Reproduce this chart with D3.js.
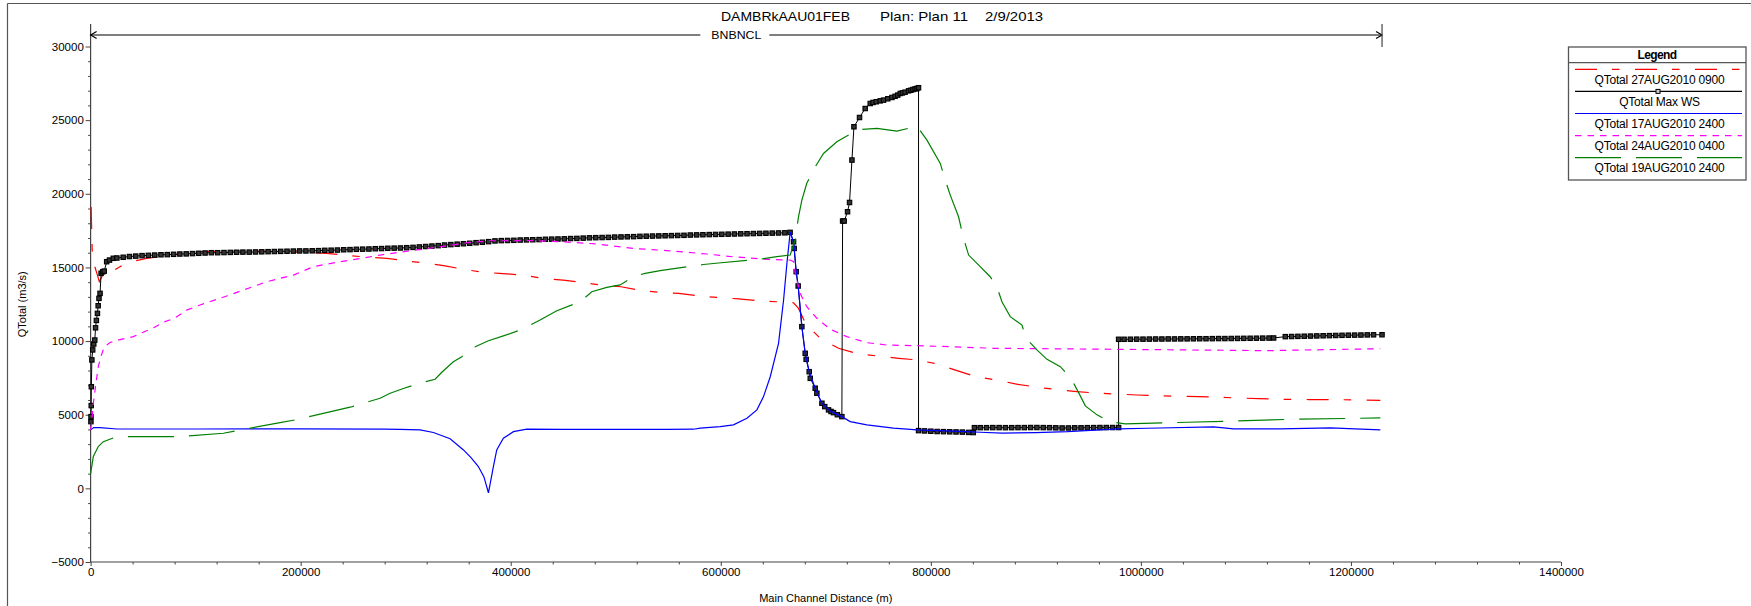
<!DOCTYPE html>
<html><head><meta charset="utf-8">
<script src="https://cdn.jsdelivr.net/npm/d3@7"></script>
<style>
html,body{margin:0;padding:0;background:#fff;}
svg{display:block;font-family:"Liberation Sans",Arial,sans-serif;}
</style></head><body>
<svg id="c" width="1751" height="606"></svg>
<script>
// ---------- text ----------
const titleParts = ["DAMBRkAAU01FEB", "Plan: Plan 11", "2/9/2013"];
const reachLabel = "BNBNCL";
const xTitle = "Main Channel Distance (m)";
const yTitle = "QTotal (m3/s)";
const legendTitle = "Legend";
const xTickValues = [0, 200000, 400000, 600000, 800000, 1000000, 1200000, 1400000];
const yTickValues = [-5000, 0, 5000, 10000, 15000, 20000, 25000, 30000];
const seriesNames = ["QTotal 27AUG2010 0900", "QTotal Max WS", "QTotal 17AUG2010 2400", "QTotal 24AUG2010 0400", "QTotal 19AUG2010 2400"];

// ---------- data: [main channel distance (m), QTotal (m3/s)] ----------
const q27Aug0900 = [[500,19100],[1500,16200],[3500,15160],[6000,14600],[8300,14030],[12100,14550],[21600,14780],[34400,15320],[53400,15620],[77000,15840],[104200,16070],[150000,16130],[205800,16000],[224800,15960],[240700,15840],[263000,15700],[282000,15620],[300000,15450],[320100,15280],[337500,15110],[356000,14860],[374000,14670],[389000,14600],[412000,14480],[430000,14260],[450000,14140],[467000,13990],[485000,13810],[505000,13690],[521000,13470],[541000,13310],[560000,13240],[579000,13060],[596000,12970],[617000,12860],[636000,12740],[653000,12670],[669300,12600],[674000,12220],[681000,11150],[694700,10190],[712100,9510],[729600,9150],[748700,8990],[769300,8830],[786800,8720],[805800,8450],[824900,7990],[842000,7600],[866000,7310],[880400,7090],[899000,6890],[916900,6730],[939100,6570],[956000,6480],[974700,6410],[996300,6340],[1015000,6300],[1033700,6250],[1054900,6230],[1072000,6190],[1090600,6140],[1112100,6090],[1131000,6050],[1160000,6030],[1190000,6020],[1228000,5980]];

const qMaxWS = [[300,4530],[400,4870],[600,5620],[700,6900],[1200,8720],[2000,9400],[3000,9800],[4000,10070],[4700,10900],[5500,11400],[6500,11880],[7200,12400],[8000,12900],[9000,13240],[10000,14600],[11500,14700],[13000,14750],[15300,15390],[18000,15500],[21600,15620],
[25000,15640],[31000,15690],[37000,15740],[43000,15770],[49000,15800],[55000,15820],[61000,15840],[67000,15860],[73000,15870],[79000,15890],[85000,15910],[91000,15920],[97000,15940],[103000,15960],[109000,15980],[115000,16000],[121000,16000],[127000,16010],[133000,16020],[139000,16030],[145000,16040],[151000,16040],[157000,16050],[163000,16060],[169000,16070],[175000,16080],[181000,16090],[187000,16100],[193000,16110],[199000,16120],[205000,16120],[211000,16130],[217000,16140],[223000,16160],[229000,16170],[235000,16180],[241000,16200],[247000,16210],[253000,16230],[259000,16240],[265000,16250],[271000,16270],[277000,16280],[283000,16300],[289000,16310],[295000,16320],[301000,16340],[307000,16360],[313000,16390],[319000,16420],[325000,16450],[331000,16480],[337000,16520],[343000,16550],[349000,16580],[355000,16610],[361000,16640],[367000,16680],[373000,16710],[379000,16750],
[385000,16800],[391000,16820],[397000,16830],[403000,16840],[409000,16860],[415000,16870],[421000,16880],[427000,16890],[433000,16910],[439000,16920],[445000,16930],[451000,16940],[457000,16960],[463000,16970],[469000,16990],[475000,17010],[481000,17020],[487000,17030],[493000,17040],[499000,17060],[505000,17070],[511000,17080],[517000,17090],[523000,17110],[529000,17120],[535000,17130],[541000,17140],[547000,17150],[553000,17160],[559000,17170],[565000,17180],[571000,17200],[577000,17210],[583000,17220],[589000,17230],[595000,17240],[601000,17250],[607000,17260],[613000,17270],[619000,17280],[625000,17290],[631000,17300],[637000,17310],[643000,17320],[649000,17330],[655000,17340],[661000,17350],[666000,17380],
[669300,16740],[669900,16290],[671800,14710],[673700,13740],[677200,10980],[680400,9170],[681300,8760],[684200,7920],[685200,7470],[689900,6800],[691500,6460],[696300,5780],[699000,5550],[702600,5330],[705000,5220],[707300,5140],[711000,5000],[715300,4870],
[716000,18150],[717500,18150],[720700,18780],[722600,19410],[724900,22290],[726800,24550],[732100,25180],[737500,25790],[742300,26130],[745000,26200],[748000,26250],[751800,26310],[755000,26360],[759000,26450],[763000,26540],[766000,26620],[768500,26700],[770900,26810],[773000,26850],[775500,26900],[778800,26990],[781000,27030],[783000,27080],[785000,27120],[786800,27150],[788300,27200],
[788300,3920],[794000,3900],[800000,3880],[806000,3860],[812000,3850],[818000,3840],[824000,3830],[830000,3820],[836000,3800],[840400,3790],
[841500,4120],[847000,4120],[853000,4120],[859000,4125],[865000,4125],[871000,4120],[877000,4120],[883000,4125],[889000,4125],[895000,4130],[901000,4130],[907000,4125],[913000,4120],[919000,4110],[925000,4100],[931000,4100],[937000,4110],[943000,4110],[949000,4120],[955000,4125],[961000,4130],[967000,4130],[973000,4130],[978800,4130],
[978800,10120],[984000,10120],[990000,10125],[996000,10130],[1002000,10130],[1008000,10135],[1014000,10140],[1020000,10140],[1026000,10145],[1032000,10145],[1038000,10150],[1044000,10150],[1050000,10155],[1056000,10160],[1062000,10160],[1068000,10165],[1074000,10170],[1080000,10170],[1086000,10175],[1092000,10180],[1098000,10185],[1104000,10190],[1110000,10195],[1116000,10200],[1122000,10205],[1126400,10210],
[1137500,10300],[1143500,10310],[1149500,10320],[1155500,10330],[1161500,10340],[1167500,10350],[1173500,10360],[1179500,10370],[1185500,10380],[1191500,10390],[1197500,10400],[1203500,10405],[1209500,10410],[1215500,10420],[1221500,10425],[1229600,10430]];

const q17Aug2400 = [[0,3970],[3000,4125],[9000,4125],[25000,4030],[100000,4030],[200000,4040],[280000,4020],[294700,4000],[313700,3970],[326400,3790],[342300,3370],[355000,2610],[362000,2100],[369200,1480],[374500,780],[378800,-300],[383500,1480],[386700,2610],[393000,3400],[402600,3850],[415300,4015],[450000,4010],[500000,4000],[550000,4010],[574000,4015],[580400,4085],[599400,4190],[612100,4310],[624900,4760],[634400,5330],[640700,6230],[647100,7580],[655000,9850],[659800,12790],[663000,15300],[666100,17400],[669300,16740],[669900,16290],[671800,14710],[673700,13740],[677200,10980],[680400,9170],[684200,7920],[689900,6800],[696300,5780],[702600,5330],[707300,5140],[715300,4870],[723200,4530],[739100,4310],[764500,4085],[786800,3970],[834400,3850],[847000,3810],[868000,3750],[900000,3790],[930000,3850],[978800,4035],[1005800,4080],[1069200,4170],[1088300,4035],[1132800,4035],[1180400,4100],[1228000,3970]];

const q24Aug0400 = [[0,3970],[1000,4440],[2600,5780],[5100,7140],[7300,8260],[10000,9000],[13000,9600],[18500,9900],[28000,10100],[40700,10300],[50000,10600],[60000,10900],[70000,11300],[80000,11550],[91500,12100],[104200,12450],[129600,13060],[167700,14030],[193100,14480],[212100,15050],[237500,15390],[263000,15680],[275600,15840],[301000,16100],[332800,16400],[361300,16700],[380400,16810],[420000,16820],[450200,16740],[482000,16590],[516900,16290],[551800,16130],[586800,15910],[612100,15720],[643800,15550],[666100,15500],[669300,15390],[670900,14600],[675600,13240],[681900,12330],[691500,11550],[704200,10800],[720000,10300],[739100,9890],[758200,9730],[786800,9690],[818500,9620],[860000,9510],[978800,9440],[1120000,9350],[1228000,9480]];

const q19Aug2400 = [[0,1000],[2600,2160],[7300,2840],[12100,3170],[24900,3510],[69300,3510],[83600,3510],[126400,3740],[139200,3920],[180400,4460],[194700,4650],[232800,5280],[247100,5510],[275600,6120],[285200,6460],[297800,6780],[313700,7140],[328000,7410],[334400,7880],[345400,8600],[353400,8940],[362900,9510],[378800,10020],[393000,10350],[409000,10750],[428000,11430],[443900,12060],[466100,12670],[477200,13350],[491500,13650],[504200,13810],[516900,14370],[528000,14600],[542300,14780],[583500,15200],[597800,15300],[639200,15580],[653400,15730],[666100,15840],[670900,16860],[674000,18440],[677200,19570],[681900,20710],[689900,21830],[697800,22740],[710500,23530],[723200,24050],[732800,24370],[748700,24440],[767700,24250],[786800,24590],[796300,23640],[809000,22060],[813700,20930],[818500,19910],[826400,18440],[831200,16970],[836000,15840],[847000,15050],[856500,14370],[862900,13690],[867700,12670],[875600,11660],[886800,11090],[890600,10190],[901000,9400],[910600,8760],[923300,8260],[933400,7480],[940700,6500],[947100,5600],[958200,4990],[970200,4530],[985200,4380],[1043900,4490],[1085100,4560],[1143900,4690],[1228000,4780]];

const seriesData = [q27Aug0900, qMaxWS, q17Aug2400, q24Aug0400, q19Aug2400];
const seriesColors = ["#ff0000", "#000000", "#0000ff", "#ff00ff", "#008000"];
const seriesDash = ["22,15,7.5,15.5", null, null, "6.5,6", "46,15"];

// ---------- layout ----------
const svg = d3.select("#c");
const x = d3.scaleLinear().domain([0, 1400000]).range([90.6, 1561]);
const y = d3.scaleLinear().domain([-5000, 30000]).range([562, 46.5]);
const fmt = d3.format("d");

// outer frame
svg.append("line").attr("x1", 7.5).attr("x2", 1751).attr("y1", 3.5).attr("y2", 3.5).attr("stroke", "#555").attr("stroke-width", 1.2);
svg.append("line").attr("x1", 7.5).attr("x2", 7.5).attr("y1", 3.5).attr("y2", 606).attr("stroke", "#555").attr("stroke-width", 1.2);

// title
const titleX = [721, 880, 985];
const titleW = [129, 88, 58];
titleParts.forEach((t, i) => {
  svg.append("text").attr("x", titleX[i]).attr("y", 20.8).attr("font-size", 13.5)
    .attr("textLength", titleW[i]).attr("lengthAdjust", "spacingAndGlyphs").attr("fill", "#000").text(t);
});

// y axis
const yAxis = svg.append("g").attr("transform", `translate(${x(0)},0)`)
  .call(d3.axisLeft(y).tickValues(yTickValues).tickFormat(fmt).tickSize(5).tickSizeOuter(0).tickPadding(1.8));
yAxis.select(".domain").remove();
yAxis.selectAll("text").attr("font-size", 11.5).attr("font-family", "Liberation Sans, Arial, sans-serif").attr("fill", "#000");
yAxis.selectAll("line").attr("stroke", "#444");
const yMinor = svg.append("g").attr("transform", `translate(${x(0)},0)`)
  .call(d3.axisLeft(y).tickValues(d3.range(-5000, 30001, 1000).filter(v => v % 5000 !== 0)).tickFormat("").tickSize(2.5).tickSizeOuter(0));
yMinor.select(".domain").remove();
yMinor.selectAll("line").attr("stroke", "#444");
svg.append("line").attr("x1", x(0)).attr("x2", x(0)).attr("y1", 24).attr("y2", y(-5000)).attr("stroke", "#444").attr("stroke-width", 1.2);

// x axis
const xAxis = svg.append("g").attr("transform", `translate(0,${y(-5000)})`)
  .call(d3.axisBottom(x).tickValues(xTickValues).tickFormat(fmt).tickSize(4).tickSizeOuter(0).tickPadding(1.8));
xAxis.select(".domain").remove();
xAxis.selectAll("text").attr("font-size", 11.5).attr("font-family", "Liberation Sans, Arial, sans-serif").attr("fill", "#000");
xAxis.selectAll("line").attr("stroke", "#444");
const xMinor = svg.append("g").attr("transform", `translate(0,${y(-5000)})`)
  .call(d3.axisBottom(x).tickValues(d3.range(0, 1400001, 40000).filter(v => v % 200000 !== 0)).tickFormat("").tickSize(2.5).tickSizeOuter(0));
xMinor.select(".domain").remove();
xMinor.selectAll("line").attr("stroke", "#444");
svg.append("line").attr("x1", x(0)).attr("x2", x(1400000)).attr("y1", y(-5000)).attr("y2", y(-5000)).attr("stroke", "#444").attr("stroke-width", 1.2);

// axis titles
svg.append("text").attr("x", (x(0) + x(1400000)) / 2).attr("y", 601.5).attr("text-anchor", "middle").attr("font-size", 11).text(xTitle);
svg.append("text").attr("transform", `translate(25.5,${(y(-5000) + y(30000)) / 2}) rotate(-90)`).attr("text-anchor", "middle").attr("font-size", 11).text(yTitle);

// reach arrow
const reachEnd = d3.max(qMaxWS, d => d[0]);
const ay = 35;
const labelMid = (x(0) + x(reachEnd)) / 2;
const g = svg.append("g").attr("stroke", "#000").attr("stroke-width", 1.2).attr("fill", "none");
g.append("line").attr("x1", x(0)).attr("x2", labelMid - 36).attr("y1", ay).attr("y2", ay);
g.append("line").attr("x1", labelMid + 33).attr("x2", x(reachEnd)).attr("y1", ay).attr("y2", ay);
g.append("path").attr("d", `M${x(0) + 6},${ay - 3.5}L${x(0)},${ay}L${x(0) + 6},${ay + 3.5}`);
g.append("path").attr("d", `M${x(reachEnd) - 6},${ay - 3.5}L${x(reachEnd)},${ay}L${x(reachEnd) - 6},${ay + 3.5}`);
g.append("line").attr("x1", x(reachEnd)).attr("x2", x(reachEnd)).attr("y1", 24).attr("y2", 47).attr("stroke", "#444");
svg.append("text").attr("x", labelMid - 25).attr("y", ay + 4).attr("font-size", 11)
  .attr("textLength", 50).attr("lengthAdjust", "spacingAndGlyphs").text(reachLabel);

// series lines
const line = d3.line().x(d => x(d[0])).y(d => y(d[1]));
seriesData.forEach((data, i) => {
  const p = svg.append("path").datum(data).attr("d", line).attr("fill", "none")
    .attr("stroke", seriesColors[i]).attr("stroke-width", i === 1 ? 1 : 1.2);
  if (seriesDash[i]) p.attr("stroke-dasharray", seriesDash[i]);
  if (i === 1) {
    svg.append("g").selectAll("rect").data(data).join("rect")
      .attr("x", d => x(d[0]) - 2.2).attr("y", d => y(d[1]) - 2.2)
      .attr("width", 4.4).attr("height", 4.4)
      .attr("fill", "#333").attr("stroke", "#000").attr("stroke-width", 1.1);
  }
});

// legend
const lg = svg.append("g");
lg.append("rect").attr("x", 1568.5).attr("y", 47).attr("width", 177.5).attr("height", 133)
  .attr("fill", "#fff").attr("stroke", "#555").attr("stroke-width", 1.3);
lg.append("text").attr("x", 1657).attr("y", 58.5).attr("text-anchor", "middle").attr("font-size", 12)
  .attr("font-weight", "bold").attr("letter-spacing", -0.6).text(legendTitle);
lg.append("line").attr("x1", 1568.5).attr("x2", 1746).attr("y1", 62.7).attr("y2", 62.7).attr("stroke", "#555").attr("stroke-width", 1.2);
seriesNames.forEach((name, i) => {
  const ly = 69.3 + i * 22.1;
  const l = lg.append("line").attr("x1", 1575).attr("x2", 1742).attr("y1", ly).attr("y2", ly)
    .attr("stroke", seriesColors[i]).attr("stroke-width", 1.2);
  if (seriesDash[i]) l.attr("stroke-dasharray", seriesDash[i]);
  if (i === 1) lg.append("rect").attr("x", 1656).attr("y", ly - 2).attr("width", 4).attr("height", 4)
    .attr("fill", "#ccc").attr("stroke", "#000").attr("stroke-width", 1);
  lg.append("text").attr("x", 1659.5).attr("y", ly + 14.4).attr("text-anchor", "middle").attr("font-size", 12)
    .attr("letter-spacing", -0.2).text(name);
});
</script>
</body></html>
